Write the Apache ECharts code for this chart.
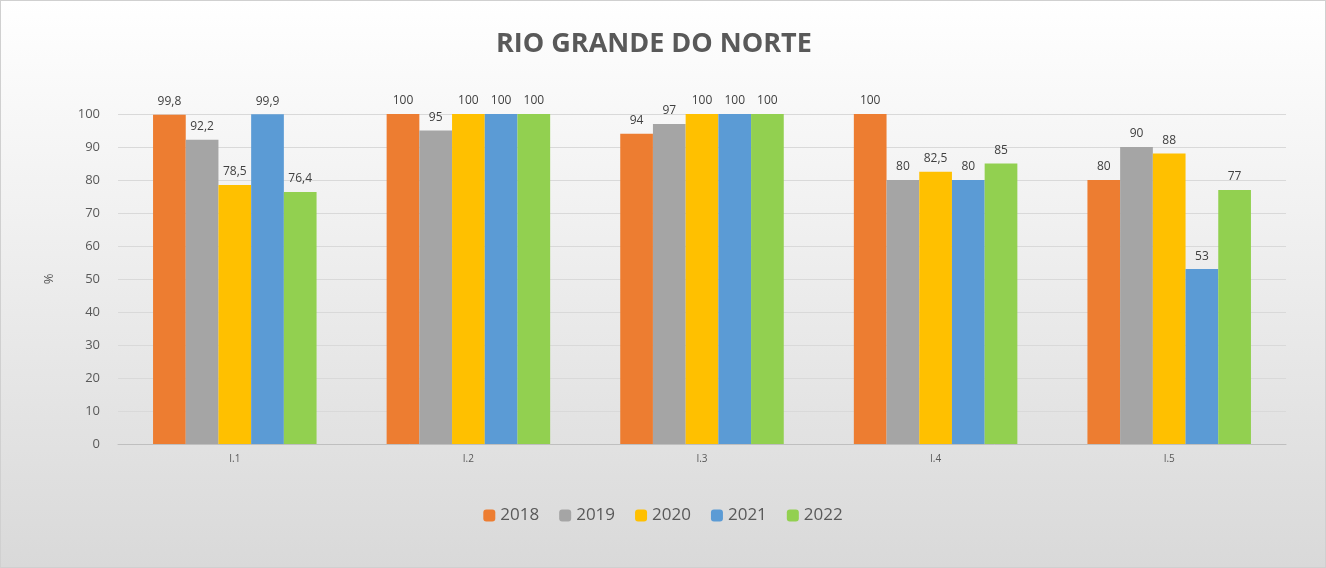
<!DOCTYPE html>
<html>
<head>
<meta charset="utf-8">
<script src="https://cdn.jsdelivr.net/npm/echarts@6/dist/echarts.min.js"></script>
<style>
html,body{margin:0;padding:0;}
#chart{width:1326px;height:568px;background:linear-gradient(#ffffff,#d9d9d9);box-sizing:border-box;border:1px solid #d0d0d0;}
</style>
</head>
<body>
<div id="chart"></div>
<script>
var categories = ['I.1', 'I.2', 'I.3', 'I.4', 'I.5'];
var years = ['2018', '2019', '2020', '2021', '2022'];
var colors = ['#ed7d31', '#a5a5a5', '#ffc000', '#5b9bd5', '#92d050'];
var values2018 = [99.8, 100, 94, 100, 80];
var values2019 = [92.2, 95, 97, 80, 90];
var values2020 = [78.5, 100, 100, 82.5, 88];
var values2021 = [99.9, 100, 100, 80, 53];
var values2022 = [76.4, 100, 100, 85, 77];
var allValues = [values2018, values2019, values2020, values2021, values2022];

function fmt(v) { return String(v).replace('.', ','); }

var myChart = echarts.init(document.getElementById('chart'));
myChart.setOption({
    textStyle: {fontFamily: 'Open Sans, sans-serif'},
    title: {
        text: 'RIO GRANDE DO NORTE',
        left: 490,
        top: 25,
        textStyle: {fontSize: 27, fontWeight: 'bold', color: '#595959'}
    },
    legend: {
        bottom: 38,
        left: 'center',
        itemWidth: 12,
        itemHeight: 12,
        itemGap: 20,
        textStyle: {fontSize: 17, color: '#595959'},
        data: years
    },
    grid: {left: 117, right: 39, top: 113, bottom: 123},
    xAxis: {
        type: 'category',
        data: categories,
        axisTick: {show: false},
        axisLine: {lineStyle: {color: '#bfbfbf'}},
        axisLabel: {color: '#595959', fontSize: 10, margin: 10}
    },
    yAxis: {
        type: 'value',
        min: 0,
        max: 100,
        interval: 10,
        name: '%',
        nameLocation: 'middle',
        nameGap: 62,
        nameTextStyle: {color: '#595959', fontSize: 13},
        axisLabel: {color: '#595959', fontSize: 13, margin: 18},
        splitLine: {lineStyle: {color: '#d9d9d9'}}
    },
    series: years.map(function (y, i) {
        return {
            name: y,
            type: 'bar',
            barGap: '0%',
            barCategoryGap: '30%',
            itemStyle: {color: colors[i]},
            label: {
                show: true,
                position: 'top',
                distance: 7,
                color: '#404040',
                fontSize: 12,
                formatter: function (p) { return fmt(p.value); }
            },
            data: allValues[i]
        };
    })
});
</script>
</body>
</html>
